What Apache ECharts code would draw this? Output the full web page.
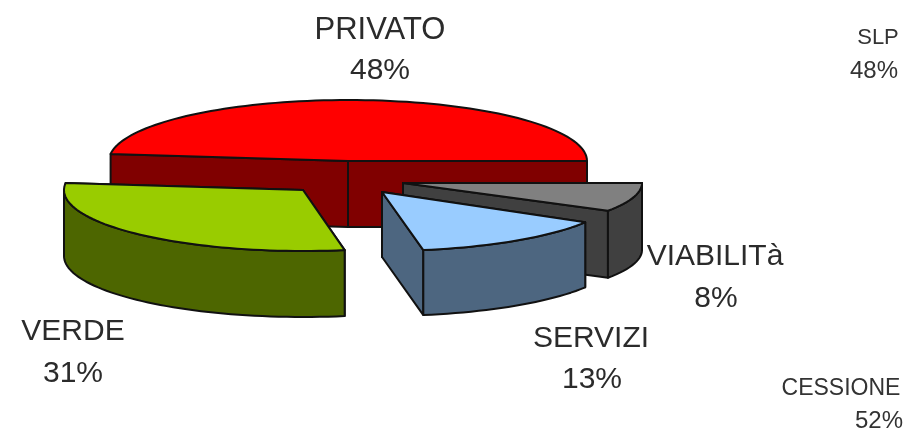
<!DOCTYPE html>
<html>
<head>
<meta charset="utf-8">
<style>
html,body{margin:0;padding:0;background:#fff}
#c{width:905px;height:434px;filter:blur(0.55px)}
</style>
<script src="https://cdn.jsdelivr.net/npm/echarts@6/dist/echarts.min.js"></script>
</head>
<body>
<div id="c"></div>
<script>
// ---- data ----
const categories = ['PRIVATO', 'VIABILITà', 'SERVIZI', 'VERDE'];
const values = [48, 8, 13, 31];
const summaryNames = ['SLP', 'CESSIONE'];
const summaryValues = [48, 52];

// ---- presentation ----
const topColors  = ['#ff0000', '#808080', '#99ccff', '#99cc00'];
const sideColors = ['#800000', '#404040', '#4d6680', '#4d6600'];
const outline = '#111111';
const centers = [[348, 161], [403, 183], [382, 192], [303, 190]];
const radiiX = [239, 239, 237, 239];
const radiiY = [61, 54, 59, 61];
const depths = [66, 67, 65, 66];
const startDeg = 187.2;          // where the first slice begins
const labelPos = [[380, 30], [715, 257], [591, 339], [73, 332]];
const percentPos = [[380, 71], [716, 299], [592, 380], [73, 374]];
const labelSize = [31, 30, 30, 30];
const summaryPos = [[878, 38], [841, 389]];
const summaryPctPos = [[874, 71], [879, 421]];
const summarySize = [22, 23];
const summaryPctSize = [24, 24];

const total = values.reduce((a, b) => a + b, 0);
// slight perspective foreshortening of the projected disc
const warp = t => t + 4.5 * Math.sin(t * Math.PI / 180);

function renderSlice(params, api) {
  const i = api.value(0);
  let before = 0;
  for (let k = 0; k < i; k++) before += values[k];
  const a0 = startDeg + before / total * 360;
  const a1 = a0 + api.value(1) / total * 360;
  const [cx, cy] = centers[i];
  const rx = radiiX[i], ry = radiiY[i], depth = depths[i];
  const pt = (deg, dz) => {
    const r = warp(deg) * Math.PI / 180;
    return [cx + rx * Math.cos(r), cy + ry * Math.sin(r) + (dz || 0)];
  };
  const arc = (from, to, dz) => {
    const out = [], n = Math.max(2, Math.ceil(Math.abs(to - from) / 2));
    for (let s = 0; s <= n; s++) out.push(pt(from + (to - from) * s / n, dz));
    return out;
  };
  const poly = (points, fill) => ({
    type: 'polygon',
    shape: { points },
    style: { fill, stroke: outline, lineWidth: 2, lineJoin: 'round' }
  });
  const cutFace = deg => poly(
    [[cx, cy], pt(deg), pt(deg, depth), [cx, cy + depth]], sideColors[i]);
  const children = [cutFace(a0), cutFace(a1)];
  // front part of the rim (angles 0..180 or 360..540 face the viewer)
  for (const off of [0, 360]) {
    const lo = Math.max(a0, off), hi = Math.min(a1, off + 180);
    if (hi > lo) {
      children.push(poly(arc(lo, hi, 0).concat(arc(hi, lo, depth)), sideColors[i]));
    }
  }
  children.push(poly([[cx, cy]].concat(arc(a0, a1, 0)), topColors[i]));
  const txt = (pos, text, size) => ({
    type: 'text',
    x: pos[0], y: pos[1],
    style: {
      text, fill: '#2b2b2b', align: 'center', verticalAlign: 'middle',
      font: size + 'px "Liberation Sans", Arial, sans-serif'
    }
  });
  children.push(txt(labelPos[i], categories[i], labelSize[i]));
  children.push(txt(percentPos[i], api.value(1) + '%', 30));
  return { type: 'group', children };
}

const chart = echarts.init(document.getElementById('c'), null, { renderer: 'canvas' });
chart.setOption({
  animation: false,
  backgroundColor: '#ffffff',
  series: [{
    type: 'custom',
    coordinateSystem: 'none',
    renderItem: renderSlice,
    data: values.map((v, i) => [i, v]),
    silent: true
  }],
  graphic: summaryNames.flatMap((name, i) => [
    { type: 'text', x: summaryPos[i][0], y: summaryPos[i][1],
      style: { text: name, fill: '#333', align: 'center', verticalAlign: 'middle',
               font: summarySize[i] + 'px "Liberation Sans", Arial, sans-serif' } },
    { type: 'text', x: summaryPctPos[i][0], y: summaryPctPos[i][1],
      style: { text: summaryValues[i] + '%', fill: '#333', align: 'center', verticalAlign: 'middle',
               font: summaryPctSize[i] + 'px "Liberation Sans", Arial, sans-serif' } }
  ])
});
</script>
</body>
</html>
